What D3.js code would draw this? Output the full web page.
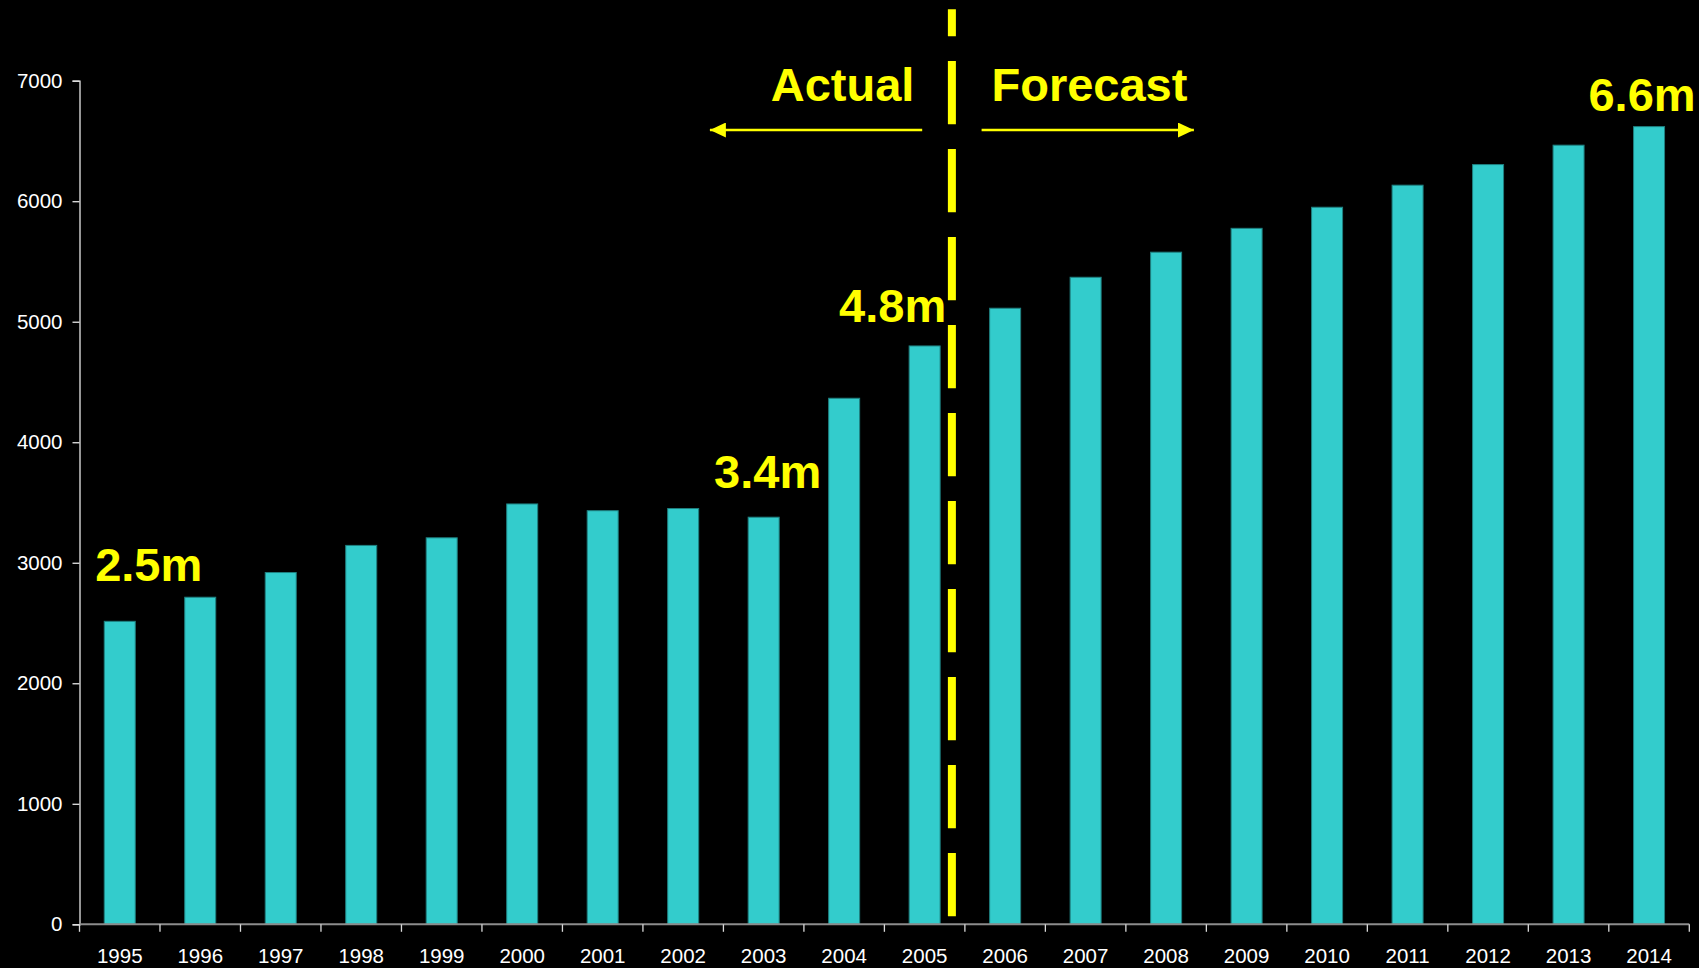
<!DOCTYPE html>
<html>
<head>
<meta charset="utf-8">
<script src="https://cdn.jsdelivr.net/npm/d3@7"></script>
<style>
  html, body { margin: 0; padding: 0; background: #000; }
  svg { display: block; }
</style>
</head>
<body>
<svg id="chart" width="1699" height="968"></svg>
<script>
// Actual vs forecast, thousands per year

var years = ['1995', '1996', '1997', '1998', '1999', '2000', '2001', '2002', '2003', '2004',
	'2005', '2006', '2007', '2008', '2009', '2010', '2011', '2012', '2013', '2014']
var values = [2514, 2714, 2919, 3144, 3207, 3488, 3432, 3450, 3378, 4365,
	4799, 5112, 5369, 5577, 5775, 5950, 6133, 6304, 6465, 6619]
var yTicks = [0, 1000, 2000, 3000, 4000, 5000, 6000, 7000]

// callouts: text, bar it sits by, value at its baseline, sideways shift
var calloutText = ['2.5m', '3.4m', '4.8m', '6.6m']
var calloutYear = ['1995', '2003', '2005', '2014']
var calloutAt = [2851, 3623, 4996, 6751]
var calloutShift = [29, 4, -32, -7]

var lastActual = '2005'

var svg = d3.select('#chart'),
	margin = {top: 80.7, right: 9.7, bottom: 43.7, left: 79.5},
	width = +svg.attr('width') - margin.left - margin.right,
	height = +svg.attr('height') - margin.top - margin.bottom,
	g = svg.append('g').attr('transform', 'translate(' + margin.left + ',' + margin.top + ')')

var yellow = '#ffff00'
var font = '"Liberation Sans", Arial, sans-serif'

var x = d3.scaleBand().domain(years).range([0, width]).padding(0)
var y = d3.scaleLinear().domain([0, 7000]).range([height, 0])
var barW = x.step() * 0.385
function mid(yr) { return x(yr) + x.bandwidth() / 2 }

// bars
g.selectAll('.bar').data(years)
	.enter().append('rect')
	.attr('class', 'bar')
	.attr('x', function(d) { return mid(d) - barW / 2 })
	.attr('width', barW)
	.attr('y', function(d, i) { return y(values[i]) })
	.attr('height', function(d, i) { return height - y(values[i]) })
	.attr('fill', '#33cccc')
	.attr('stroke', '#1f8080')
	.attr('stroke-width', 1)

// y axis
var yAxis = g.append('g')
	.call(d3.axisLeft(y).tickValues(yTicks).tickSize(7).tickPadding(10).tickFormat(d3.format('d')))
yAxis.select('.domain').attr('stroke', '#e6e6e6').attr('stroke-width', 1.3)
yAxis.selectAll('.tick line').attr('stroke', '#e6e6e6').attr('stroke-width', 1.3)
yAxis.selectAll('.tick text')
	.attr('fill', '#ffffff').attr('font-family', font).attr('font-size', '20.5px')

// x axis: line, ticks between categories, labels under centres
var xAxis = g.append('g').attr('transform', 'translate(0,' + height + ')')
xAxis.append('line')
	.attr('x1', 0).attr('x2', width)
	.attr('stroke', '#8c8c8c').attr('stroke-width', 2)
xAxis.selectAll('.xtick').data(years.concat(['end']))
	.enter().append('line')
	.attr('class', 'xtick')
	.attr('x1', function(d, i) { return i * x.step() })
	.attr('x2', function(d, i) { return i * x.step() })
	.attr('y1', 0).attr('y2', 7.5)
	.attr('stroke', '#d9d9d9').attr('stroke-width', 1.3)
xAxis.selectAll('.xlabel').data(years)
	.enter().append('text')
	.attr('class', 'xlabel')
	.attr('x', function(d) { return mid(d) })
	.attr('y', 39)
	.attr('text-anchor', 'middle')
	.attr('fill', '#ffffff')
	.attr('font-family', font)
	.attr('font-size', '20.5px')
	.text(function(d) { return d })

// divider between actual and forecast
var divX = x(lastActual) + x.step() - 13
var divTop = 9.3 - margin.top
g.append('line')
	.attr('x1', divX).attr('x2', divX)
	.attr('y1', divTop).attr('y2', height - 7.3)
	.attr('stroke', yellow).attr('stroke-width', 8)
	.attr('stroke-dasharray', '63.3,24.7')
	.attr('stroke-dashoffset', 36.3)

// Actual / Forecast headings
var headY = 100.7 - margin.top
g.append('text')
	.attr('x', divX - 37.5).attr('y', headY)
	.attr('text-anchor', 'end')
	.attr('fill', yellow).attr('font-family', font)
	.attr('font-weight', 'bold').attr('font-size', '47px')
	.text('Actual')
g.append('text')
	.attr('x', divX + 39.6).attr('y', headY)
	.attr('text-anchor', 'start')
	.attr('fill', yellow).attr('font-family', font)
	.attr('font-weight', 'bold').attr('font-size', '47px')
	.text('Forecast')

// arrows
var defs = svg.append('defs')
defs.append('marker')
	.attr('id', 'head')
	.attr('viewBox', '0 0 10 10')
	.attr('refX', 10).attr('refY', 5)
	.attr('markerWidth', 16).attr('markerHeight', 15)
	.attr('markerUnits', 'userSpaceOnUse')
	.attr('orient', 'auto')
	.attr('preserveAspectRatio', 'none')
	.append('path').attr('d', 'M0,0L10,5L0,10Z').attr('fill', yellow)

var arrowY = 130 - margin.top
g.append('line')
	.attr('x1', divX - 29.7).attr('x2', divX - 242)
	.attr('y1', arrowY).attr('y2', arrowY)
	.attr('stroke', yellow).attr('stroke-width', 2.6)
	.attr('marker-end', 'url(#head)')
g.append('line')
	.attr('x1', divX + 29.7).attr('x2', divX + 242)
	.attr('y1', arrowY).attr('y2', arrowY)
	.attr('stroke', yellow).attr('stroke-width', 2.6)
	.attr('marker-end', 'url(#head)')

// callouts
g.selectAll('.callout').data(calloutText)
	.enter().append('text')
	.attr('class', 'callout')
	.attr('x', function(d, i) { return mid(calloutYear[i]) + calloutShift[i] })
	.attr('y', function(d, i) { return y(calloutAt[i]) })
	.attr('text-anchor', 'middle')
	.attr('fill', yellow).attr('font-family', font)
	.attr('font-weight', 'bold').attr('font-size', '47px')
	.text(function(d) { return d })
</script>
</body>
</html>
